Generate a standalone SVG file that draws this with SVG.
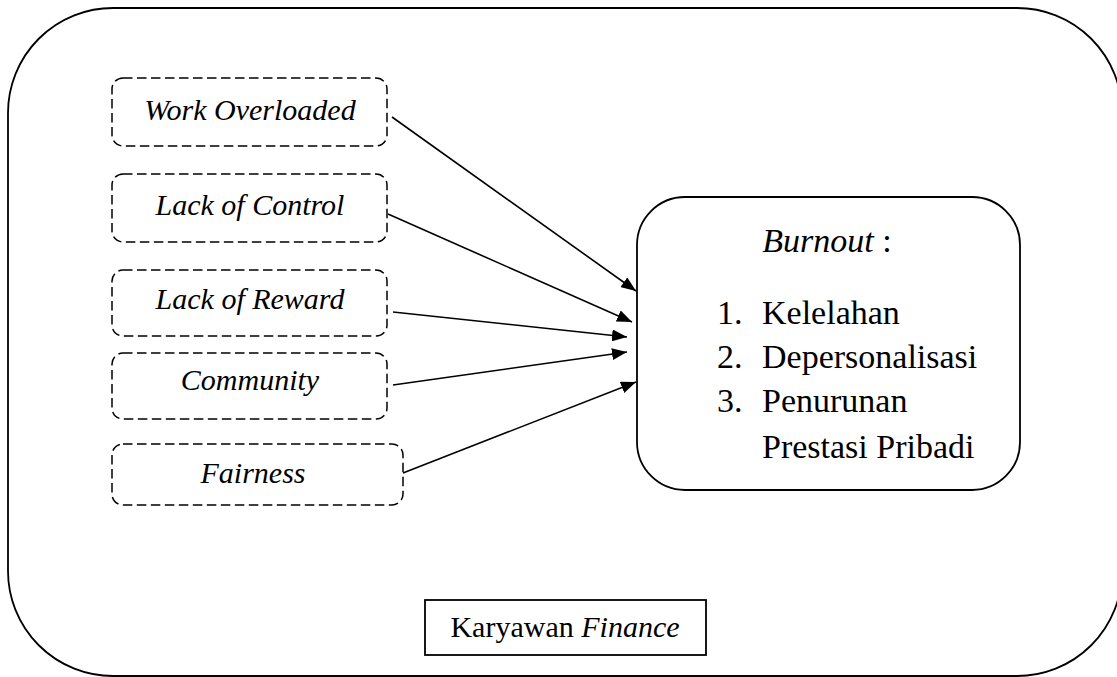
<svg xmlns="http://www.w3.org/2000/svg" width="1117" height="677" viewBox="0 0 1117 677" font-family="'Liberation Serif', 'Times New Roman', 'DejaVu Serif', serif">
<style>
.frame{fill:none;stroke:#000;stroke-width:1.8}
.dash{fill:#fff;stroke:#000;stroke-width:1.5;stroke-dasharray:9.5 4.5}
.conn{fill:none;stroke:#000;stroke-width:1.6}
.t{font-family:'Liberation Serif','Times New Roman','DejaVu Serif',serif;fill:#000}
.lbl{font-size:30px;font-style:italic;text-anchor:middle}
.big{font-size:34px}
</style>
<defs>
<marker id="ah" markerUnits="userSpaceOnUse" markerWidth="16" markerHeight="12" refX="15" refY="6" orient="auto">
<path d="M0,0 L15,6 L0,12 z" fill="#000"/>
</marker>
</defs>
<rect width="1117" height="677" fill="#fff"/>
<g id="outer">
<rect class="frame" x="8" y="8" width="1114" height="668" rx="105" ry="105"/>
</g>
<g id="connectors">
<line class="conn" x1="392" y1="117" x2="636" y2="291" marker-end="url(#ah)"/>
<line class="conn" x1="388" y1="214" x2="632" y2="322" marker-end="url(#ah)"/>
<line class="conn" x1="393" y1="312" x2="627" y2="337" marker-end="url(#ah)"/>
<line class="conn" x1="393" y1="385" x2="627" y2="352" marker-end="url(#ah)"/>
<line class="conn" x1="403" y1="473" x2="636" y2="382" marker-end="url(#ah)"/>
</g>
<g id="work-overloaded">
<rect class="dash" x="112" y="78" width="275" height="68" rx="11"/>
<text class="t lbl" x="250" y="120">Work Overloaded</text>
</g>
<g id="lack-of-control">
<rect class="dash" x="112" y="174" width="275" height="68" rx="11"/>
<text class="t lbl" x="250" y="215">Lack of Control</text>
</g>
<g id="lack-of-reward">
<rect class="dash" x="112" y="270" width="275" height="66" rx="11"/>
<text class="t lbl" x="250" y="309">Lack of Reward</text>
</g>
<g id="community">
<rect class="dash" x="112" y="353" width="275" height="66" rx="11"/>
<text class="t lbl" x="250" y="390">Community</text>
</g>
<g id="fairness">
<rect class="dash" x="112" y="444" width="291" height="61" rx="11"/>
<text class="t lbl" x="253" y="483">Fairness</text>
</g>
<g id="burnout">
<rect class="frame" x="637" y="197" width="383" height="293" rx="48" ry="48"/>
<text class="t big" x="827" y="252" text-anchor="middle"><tspan font-style="italic">Burnout</tspan> :</text>
<text class="t big" x="717" y="324">1.</text>
<text class="t big" x="762" y="324">Kelelahan</text>
<text class="t big" x="717" y="368">2.</text>
<text class="t big" x="762" y="368">Depersonalisasi</text>
<text class="t big" x="717" y="412">3.</text>
<text class="t big" x="762" y="412">Penurunan</text>
<text class="t big" x="762" y="458">Prestasi Pribadi</text>
</g>
<g id="karyawan-finance">
<rect x="425" y="600" width="281" height="55" fill="#fff" stroke="#000" stroke-width="1.8"/>
<text class="t" x="565" y="637" font-size="30" text-anchor="middle">Karyawan <tspan font-style="italic">Finance</tspan></text>
</g>
</svg>
